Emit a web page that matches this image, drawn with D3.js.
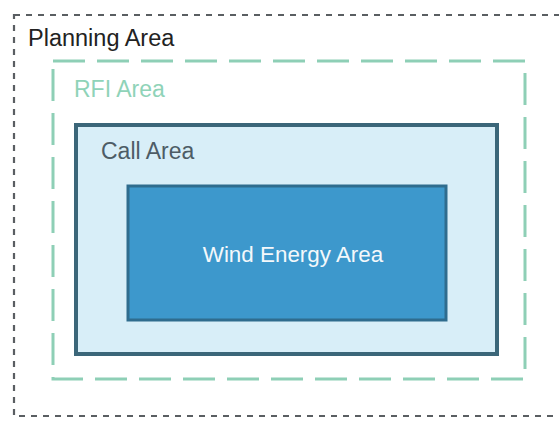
<!DOCTYPE html>
<html>
<head>
<meta charset="utf-8">
<script src="https://cdn.jsdelivr.net/npm/d3@7"></script>
<style>
  body { margin: 0; background: #fff; }
  svg { display: block; }
</style>
</head>
<body>
<div id="chart"></div>
<script>
// nested areas, outermost first
var areaNames = ['Planning Area', 'RFI Area', 'Call Area', 'Wind Energy Area'];
var areaLeft = [14, 53, 76, 128];
var areaTop = [15, 61, 125, 186];
var areaRight = [575, 525, 497, 446];
var areaBottom = [416, 379, 354, 320];

var width = 559, height = 422;

var Diagram = {
    svg: '',
    x: d3.scaleLinear().domain([0, 559]).range([0, width]),
    y: d3.scaleLinear().domain([0, 422]).range([0, height]),
    styles: [
        { fill: 'none', stroke: '#5a5e62', sw: 2.2, dash: '6,6', text: '#222', size: 23.5 },
        { fill: 'none', stroke: '#8ecfb6', sw: 3, dash: '32,12', text: '#8fd3b8', size: 23 },
        { fill: '#d8eef8', stroke: '#3b6679', sw: 4, dash: null, text: '#4d5c66', size: 23 },
        { fill: '#3d98cc', stroke: '#2f6c8e', sw: 3, dash: null, text: '#f4f8fb', size: 22.4 }
    ],
    labelOffset: [[14, 31], [21, 36], [25, 34], [6, 9]],
    draw: function () {
        this.svg = d3.select('#chart').append('svg')
            .attr('width', width)
            .attr('height', height);

        var self = this;
        var data = areaNames.map(function (name, i) {
            return { name: name, x0: areaLeft[i], y0: areaTop[i], x1: areaRight[i], y1: areaBottom[i], i: i };
        });

        this.svg.selectAll('rect.area')
            .data(data)
            .enter()
            .append('rect')
            .attr('class', 'area')
            .attr('x', function (d) { return self.x(d.x0); })
            .attr('y', function (d) { return self.y(d.y0); })
            .attr('width', function (d) { return self.x(d.x1) - self.x(d.x0); })
            .attr('height', function (d) { return self.y(d.y1) - self.y(d.y0); })
            .attr('fill', function (d) { return self.styles[d.i].fill; })
            .attr('stroke', function (d) { return self.styles[d.i].stroke; })
            .attr('stroke-width', function (d) { return self.styles[d.i].sw; })
            .attr('stroke-dasharray', function (d) { return self.styles[d.i].dash; });

        // center label for the innermost area, top-left labels for the rest
        this.svg.selectAll('text.label')
            .data(data)
            .enter()
            .append('text')
            .attr('class', 'label')
            .attr('x', function (d) {
                if (d.i === 3) return (self.x(d.x0) + self.x(d.x1)) / 2 + self.labelOffset[3][0];
                return self.x(d.x0) + self.labelOffset[d.i][0];
            })
            .attr('y', function (d) {
                if (d.i === 3) return (self.y(d.y0) + self.y(d.y1)) / 2 + self.labelOffset[3][1];
                return self.y(d.y0) + self.labelOffset[d.i][1];
            })
            .attr('text-anchor', function (d) { return d.i === 3 ? 'middle' : 'start'; })
            .style('font-family', 'Liberation Sans, Arial, sans-serif')
            .style('font-size', function (d) { return self.styles[d.i].size + 'px'; })
            .attr('fill', function (d) { return self.styles[d.i].text; })
            .text(function (d) { return d.name; });
    }
};

Diagram.draw();
</script>
</body>
</html>
